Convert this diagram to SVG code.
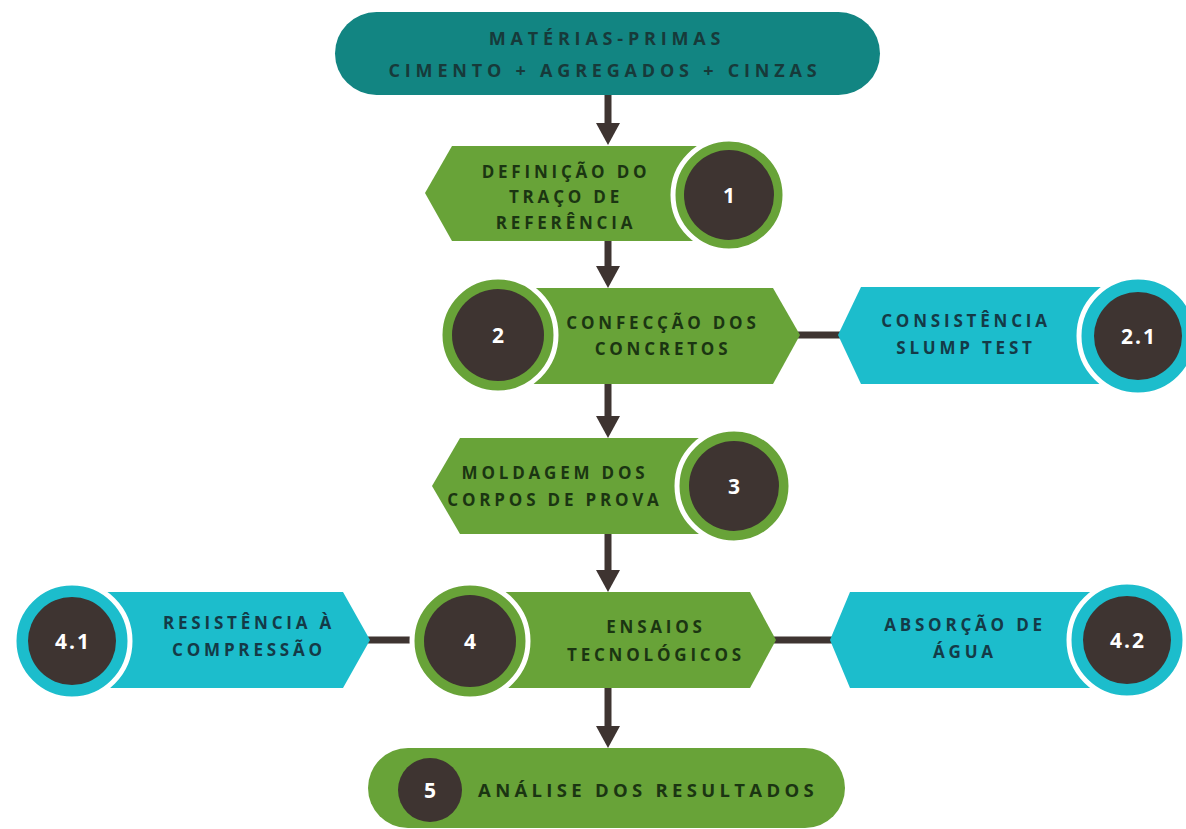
<svg xmlns="http://www.w3.org/2000/svg" width="1186" height="829" viewBox="0 0 1186 829">
<defs>
<style>
.g{fill:#68a338}
.c{fill:#1cbdcc}
.ring-g{fill:#68a338;stroke:#ffffff;stroke-width:5}
.ring-c{fill:#1cbdcc;stroke:#ffffff;stroke-width:5}
.dk{fill:#3e3431}
.lbl{font-family:"Open Sans","Liberation Sans",sans-serif;font-weight:700;font-size:17px;letter-spacing:3.8px;text-anchor:middle}
.top{font-size:18px;letter-spacing:4.8px}
.big{font-size:18.5px;letter-spacing:4.3px}
.tg{fill:#1b3512}
.tc{fill:#143a47}
.tt{fill:#173a3a}
.num{font-family:"Open Sans","Liberation Sans",sans-serif;font-weight:700;font-size:21px;fill:#ffffff;text-anchor:middle;letter-spacing:2px}
.ln{stroke:#3e3431;stroke-width:7;fill:none}
.ah{fill:#3e3431}
</style>
</defs>
<rect width="1186" height="829" fill="#ffffff"/>
<g id="connectors">
<line class="ln" x1="608" y1="95" x2="608" y2="126"/>
<polygon class="ah" points="596,123 620,123 608,145"/>
<line class="ln" x1="608" y1="240" x2="608" y2="269"/>
<polygon class="ah" points="596,266 620,266 608,288"/>
<line class="ln" x1="608" y1="383" x2="608" y2="419"/>
<polygon class="ah" points="596,416 620,416 608,438"/>
<line class="ln" x1="608" y1="533" x2="608" y2="573"/>
<polygon class="ah" points="596,570 620,570 608,592"/>
<line class="ln" x1="608" y1="687" x2="608" y2="729"/>
<polygon class="ah" points="596,726 620,726 608,748"/>
<line class="ln" x1="798" y1="335" x2="840" y2="335"/>
<line class="ln" x1="368" y1="640" x2="545" y2="640"/>
<line class="ln" x1="774" y1="640" x2="832" y2="640"/>
</g>
<g id="node-materias">
<rect x="335" y="12" width="545" height="83" rx="41.5" fill="#128582"/>
<text class="lbl top tt" x="607" y="45">MATÉRIAS-PRIMAS</text>
<text class="lbl top tt" x="605" y="77">CIMENTO + AGREGADOS + CINZAS</text>
</g>
<g id="node-1">
<polygon class="g" points="425,193 452,146 710,146 710,241 452,241"/>
<circle class="ring-g" cx="729" cy="195" r="56"/>
<circle class="dk" cx="729" cy="195" r="45"/>
<text class="num" x="730" y="203">1</text>
<text class="lbl tg" x="566" y="178">DEFINIÇÃO DO</text>
<text class="lbl tg" x="566" y="203">TRAÇO DE</text>
<text class="lbl tg" x="566" y="229">REFERÊNCIA</text>
</g>
<g id="node-2">
<polygon class="g" points="520,288 773,288 800,335 773,384 520,384"/>
<circle class="ring-g" cx="498" cy="335" r="58"/>
<circle class="dk" cx="498" cy="335" r="46"/>
<text class="num" x="499" y="343">2</text>
<text class="lbl tg" x="663" y="329">CONFECÇÃO DOS</text>
<text class="lbl tg" x="663" y="355">CONCRETOS</text>
</g>
<g id="node-2-1">
<polygon class="c" points="838,335 861,287 1120,287 1120,384 861,384"/>
<circle class="ring-c" cx="1138" cy="336" r="59"/>
<circle class="dk" cx="1138" cy="336" r="44"/>
<text class="num" x="1139" y="344">2.1</text>
<text class="lbl tc" x="966" y="327">CONSISTÊNCIA</text>
<text class="lbl tc" x="966" y="354">SLUMP TEST</text>
</g>
<g id="node-3">
<polygon class="g" points="432,486 460,438 715,438 715,534 460,534"/>
<circle class="ring-g" cx="734" cy="486" r="57"/>
<circle class="dk" cx="734" cy="486" r="45"/>
<text class="num" x="735" y="494">3</text>
<text class="lbl tg" x="555" y="479">MOLDAGEM DOS</text>
<text class="lbl tg" x="555" y="506">CORPOS DE PROVA</text>
</g>
<g id="node-4">
<polygon class="g" points="500,592 750,592 776,640 750,688 500,688"/>
<circle class="ring-g" cx="470" cy="641" r="58"/>
<circle class="dk" cx="470" cy="641" r="46"/>
<text class="num" x="471" y="649">4</text>
<text class="lbl tg" x="656" y="633">ENSAIOS</text>
<text class="lbl tg" x="656" y="661">TECNOLÓGICOS</text>
</g>
<g id="node-4-1">
<polygon class="c" points="100,592 343,592 370,640 343,688 100,688"/>
<circle class="ring-c" cx="72" cy="641" r="58"/>
<circle class="dk" cx="72" cy="641" r="44"/>
<text class="num" x="73" y="649">4.1</text>
<text class="lbl tc" x="249" y="629">RESISTÊNCIA À</text>
<text class="lbl tc" x="249" y="656">COMPRESSÃO</text>
</g>
<g id="node-4-2">
<polygon class="c" points="830,640 850,592 1110,592 1110,688 850,688"/>
<circle class="ring-c" cx="1127" cy="640" r="58"/>
<circle class="dk" cx="1127" cy="640" r="44"/>
<text class="num" x="1128" y="648">4.2</text>
<text class="lbl tc" x="965" y="631">ABSORÇÃO DE</text>
<text class="lbl tc" x="965" y="658">ÁGUA</text>
</g>
<g id="node-5">
<rect x="368" y="748" width="477" height="80" rx="40" fill="#68a338"/>
<circle class="dk" cx="430" cy="790" r="32"/>
<text class="num" x="431" y="798">5</text>
<text class="lbl big tg" x="648" y="797">ANÁLISE DOS RESULTADOS</text>
</g>
</svg>
